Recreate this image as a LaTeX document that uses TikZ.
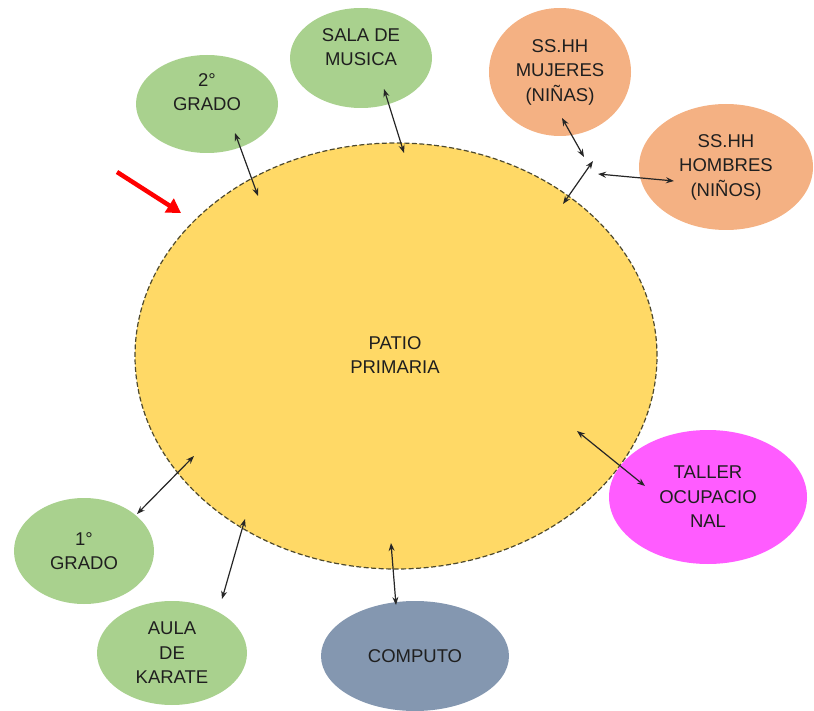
\documentclass[tikz,border=0pt]{standalone}
\usepackage{fontspec}
\setmainfont{Liberation Sans}
\usetikzlibrary{shapes.geometric,arrows.meta}
\definecolor{patiofill}{HTML}{FFD966}
\definecolor{greenfill}{HTML}{A9D18E}
\definecolor{orangefill}{HTML}{F4B183}
\definecolor{magfill}{HTML}{FF5CFF}
\definecolor{slatefill}{HTML}{8497B0}
\definecolor{txt}{HTML}{1F1F1F}
\tikzset{
  room/.style={ellipse, inner sep=0pt, draw=none},
  lbl/.style={align=center, text=txt, font=\fontsize{18.5}{24.5}\selectfont},
  link/.style={{Stealth[length=8pt,width=6pt]}-{Stealth[length=8pt,width=6pt]}, line width=1.2pt, black!85}
}
\begin{document}
\begin{tikzpicture}[x=1pt,y=-1pt]
\useasboundingbox (0,0) rectangle (814,711);
% main patio
\node[room, fill=patiofill, draw=black!60!olive, dash pattern=on 5pt off 2.5pt, line width=1.2pt,
      minimum width=522pt, minimum height=426pt] (patio) at (396,356) {};
\node[lbl] (patiotxt) at (395,355) {PATIO\\PRIMARIA};
% rooms
\node[room, fill=greenfill, minimum width=142pt, minimum height=98pt] (g2) at (207,104) {};
\node[lbl] (g2t) at (207,92) {2°\\GRADO};
\node[room, fill=greenfill, minimum width=142pt, minimum height=100pt] (sala) at (361,58) {};
\node[lbl] (salat) at (361,47) {SALA DE\\MUSICA};
\node[room, fill=orangefill, minimum width=142pt, minimum height=128pt, lbl] (muj) at (560,72) {SS.HH\\MUJERES\\(NIÑAS)};
\node[room, fill=orangefill, minimum width=174pt, minimum height=126pt, lbl] (hom) at (726,167) {SS.HH\\HOMBRES\\(NIÑOS)};
\node[room, fill=magfill, minimum width=198pt, minimum height=134pt, lbl] (taller) at (708,497) {TALLER\\OCUPACIO\\NAL};
\node[room, fill=slatefill, minimum width=188pt, minimum height=110pt, lbl] (comp) at (415,656) {COMPUTO};
\node[room, fill=greenfill, minimum width=140pt, minimum height=106pt, lbl] (g1) at (84,551) {1°\\GRADO};
\node[room, fill=greenfill, minimum width=150pt, minimum height=104pt, lbl] (kar) at (172,653) {AULA\\DE\\KARATE};
% connector end points
\coordinate (g2a) at (235,133);   \coordinate (g2b) at (258,196);
\coordinate (sala1) at (384,89);  \coordinate (sala2) at (404,153);
\coordinate (muj1) at (562,118);  \coordinate (muj2) at (584,157);
\coordinate (jun1) at (593,161);  \coordinate (jun2) at (563,204);
\coordinate (hom1) at (598,174);  \coordinate (hom2) at (674,181);
\coordinate (tal1) at (577,431);  \coordinate (tal2) at (645,486);
\coordinate (comp1) at (391,543); \coordinate (comp2) at (396,605);
\coordinate (g1a) at (194,456);   \coordinate (g1b) at (137,514);
\coordinate (kar1) at (245,519);  \coordinate (kar2) at (222,599);
\coordinate (red1) at (117,172);  \coordinate (red2) at (181,213);
% connectors
\draw[link] (g2a) -- (g2b);
\draw[link] (sala1) -- (sala2);
\draw[link] (muj1) -- (muj2);
\draw[link] (jun1) -- (jun2);
\draw[link] (hom1) -- (hom2);
\draw[link] (tal1) -- (tal2);
\draw[link] (comp1) -- (comp2);
\draw[link] (g1a) -- (g1b);
\draw[link] (kar1) -- (kar2);
\draw[red, line width=4.5pt, -{Triangle[length=14pt,width=16pt]}] (red1) -- (red2);
\end{tikzpicture}
\end{document}
